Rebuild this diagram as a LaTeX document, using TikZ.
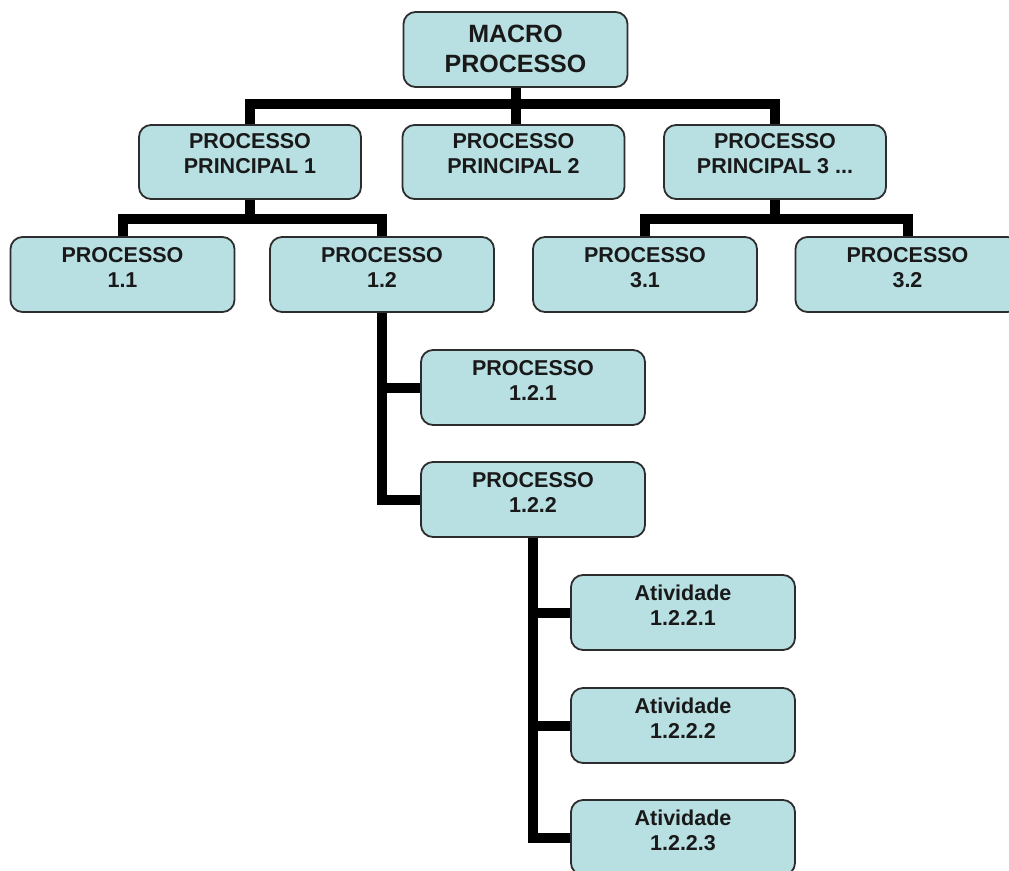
\documentclass[tikz,border=0pt]{standalone}
\usepackage{fontspec}
\setmainfont{Liberation Sans}
\usetikzlibrary{backgrounds}
\definecolor{boxfill}{RGB}{184,223,226}
\definecolor{boxline}{RGB}{45,45,45}
\tikzset{
  box/.style={draw=boxline, line width=1.8pt, fill=boxfill, rounded corners=12pt,
    rectangle, minimum width=224pt, minimum height=75pt, inner sep=0pt},
  txt/.style={anchor=north, inner sep=0pt, align=center, yshift=-11pt,
    font=\bfseries\fontsize{21.5}{25}\selectfont, text=black!90},
  bigtxt/.style={txt, yshift=-3pt, font=\bfseries\fontsize{25}{30}\selectfont},
  link/.style={line width=10pt, line join=miter, draw=black},
}
\begin{document}
\begin{tikzpicture}[x=1pt,y=1pt]
\useasboundingbox (0,0) rectangle (1009,-870);

% boxes
\node[box] (macro) at (515.5,-49.5) {};
\node[box, minimum width=222pt, minimum height=74pt] (pp1) at (250,-162) {};
\node[box, minimum width=222pt, minimum height=74pt] (pp2) at (513.5,-162) {};
\node[box, minimum width=222pt, minimum height=74pt] (pp3) at (775,-162) {};
\node[box] (p11) at (122.5,-274.5) {};
\node[box] (p12) at (382,-274.5) {};
\node[box] (p31) at (645,-274.5) {};
\node[box] (p32) at (907.5,-274.5) {};
\node[box] (p121) at (533,-387.5) {};
\node[box] (p122) at (533,-499.5) {};
\node[box] (a1) at (683,-612.5) {};
\node[box] (a2) at (683,-725.5) {};
\node[box] (a3) at (683,-837.5) {};

% labels
\node[bigtxt] (tmacro) at (macro.north) {MACRO\\PROCESSO};
\node[txt, yshift=2pt] (tpp1) at (pp1.north) {PROCESSO\\PRINCIPAL 1};
\node[txt, yshift=2pt] (tpp2) at (pp2.north) {PROCESSO\\PRINCIPAL 2};
\node[txt, yshift=2pt] (tpp3) at (pp3.north) {PROCESSO\\PRINCIPAL 3 ...};
\node[txt] (tp11) at (p11.north) {PROCESSO\\1.1};
\node[txt] (tp12) at (p12.north) {PROCESSO\\1.2};
\node[txt] (tp31) at (p31.north) {PROCESSO\\3.1};
\node[txt] (tp32) at (p32.north) {PROCESSO\\3.2};
\node[txt] (tp121) at (p121.north) {PROCESSO\\1.2.1};
\node[txt] (tp122) at (p122.north) {PROCESSO\\1.2.2};
\node[txt] (ta1) at (a1.north) {Atividade\\1.2.2.1};
\node[txt] (ta2) at (a2.north) {Atividade\\1.2.2.2};
\node[txt] (ta3) at (a3.north) {Atividade\\1.2.2.3};

% connectors
\begin{scope}[on background layer]
  \draw[link] (macro.south) -- (macro.south |- pp2.north);
  \draw[link] (pp1.north) -- ++(0,20) -| (pp3.north);

  \draw[link] (pp1.south) -- ++(0,-21);
  \draw[link] (p11.north) -- ++(0,17) -| (p12.north);

  \draw[link] (pp3.south) -- ++(0,-21);
  \draw[link] (p31.north) -- ++(0,17) -| (p32.north);

  \draw[link] (p12.south) -- (p12.south |- p122.west) -- (p122.west);
  \draw[link] (p12.south |- p121.west) -- (p121.west);

  \draw[link] (p122.south) -- (p122.south |- a3.west) -- (a3.west);
  \draw[link] (p122.south |- a1.west) -- (a1.west);
  \draw[link] (p122.south |- a2.west) -- (a2.west);
\end{scope}
\end{tikzpicture}
\end{document}
